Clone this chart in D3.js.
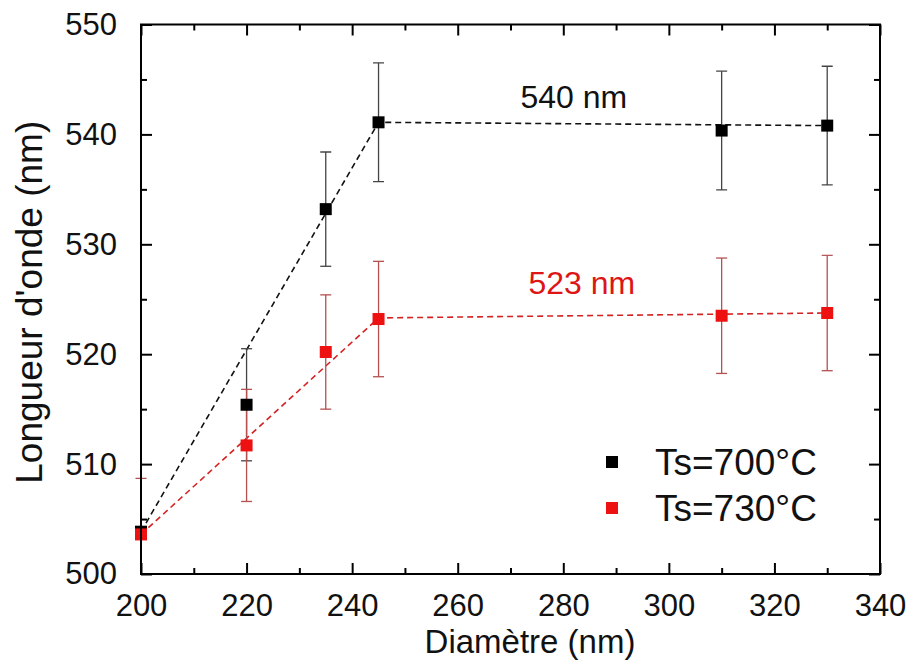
<!DOCTYPE html>
<html><head><meta charset="utf-8">
<script src="https://cdn.jsdelivr.net/npm/d3@7"></script>
<style>body{margin:0;background:#fff}svg{display:block}text{font-family:Arial,"Liberation Sans",sans-serif}</style>
</head><body>
<svg id="c" width="908" height="671"></svg>
<script>
const diam = [200, 220, 235, 245, 310, 330];
const ts700 = [503.85, 515.4, 533.2, 541.1, 540.35, 540.8];
const err700 = [null, 5.1, 5.2, 5.4, 5.4, 5.4];
const ts730 = [503.6, 511.7, 520.2, 523.2, 523.5, 523.75];
const err730 = [5.1, 5.1, 5.2, 5.25, 5.25, 5.25];
const guideX700 = [200, 245, 330];
const guide700 = [503.85, 541.1, 540.8];
const guideX730 = [200, 245, 330];
const guide730 = [503.6, 523.3, 523.75];
const xTicks = [200, 220, 240, 260, 280, 300, 320, 340];
const yTicks = [500, 510, 520, 530, 540, 550];
const seriesNames = ["Ts=700°C", "Ts=730°C"];
const annot = [{v: 540.0, x: 282, text: "540 nm"}, {v: 523.0, x: 283.5, text: "523 nm"}];

const L = 141, R = 880, T = 24.5, B = 574;
const x = d3.scaleLinear().domain([200, 340]).range([L, R]);
const y = d3.scaleLinear().domain([500, 550]).range([B, T]);
const svg = d3.select("#c");

svg.append("defs").append("clipPath").attr("id", "clipV")
  .append("rect").attr("x", 0).attr("y", T).attr("width", R).attr("height", B - T);

const cols = {k: {pt: "#000", line: "#111", err: "#444"}, r: {pt: "#ee1111", line: "#d42222", err: "#b55050"}};

// guide lines
function guide(xs, ys, c) {
  svg.append("path").datum(xs.map((d, i) => [d, ys[i]]))
    .attr("d", d3.line().x(d => x(d[0])).y(d => y(d[1])))
    .attr("fill", "none").attr("stroke", c).attr("stroke-width", 1.6).attr("stroke-dasharray", "6,4");
}
guide(guideX700, guide700, cols.k.line);
guide(guideX730, guide730, cols.r.line);

// error bars
function errs(vals, es, c) {
  const g = svg.append("g").attr("stroke", c).attr("stroke-width", 1.3).attr("clip-path", "url(#clipV)");
  diam.forEach((d, i) => {
    if (es[i] == null) return;
    const cx = x(d), y1 = y(vals[i] - es[i]), y2 = y(vals[i] + es[i]);
    g.append("line").attr("x1", cx).attr("x2", cx).attr("y1", y1).attr("y2", y2);
    g.append("line").attr("x1", cx - 5.5).attr("x2", cx + 5.5).attr("y1", y1).attr("y2", y1);
    g.append("line").attr("x1", cx - 5.5).attr("x2", cx + 5.5).attr("y1", y2).attr("y2", y2);
  });
}
errs(ts700, err700, cols.k.err);
errs(ts730, err730, cols.r.err);

// markers
function marks(vals, c) {
  svg.append("g").selectAll("rect").data(diam).join("rect")
    .attr("x", d => x(d) - 6).attr("y", (d, i) => y(vals[i]) - 6)
    .attr("width", 12).attr("height", 12).attr("fill", c);
}
marks(ts700, cols.k.pt);
marks(ts730, cols.r.pt);

// frame
svg.append("rect").attr("x", L).attr("y", T).attr("width", R - L).attr("height", B - T)
  .attr("fill", "none").attr("stroke", "#000").attr("stroke-width", 2);

// axes (ticks inward)
const xMinor = d3.range(210, 340, 20);
const yMinor = d3.range(505, 550, 10);
function styleAxis(g) {
  g.select(".domain").remove();
  g.selectAll(".tick line").attr("stroke", "#000").attr("stroke-width", 2);
}
const fontTick = "31px";
svg.append("g").attr("transform", `translate(0,${B})`)
  .call(d3.axisBottom(x).tickValues(xTicks).tickSize(-11).tickPadding(20).tickFormat(d3.format("d")))
  .call(styleAxis)
  .call(g => g.selectAll("text").attr("font-size", fontTick).attr("fill", "#111").attr("font-family", "Arial, Liberation Sans, sans-serif"));
svg.append("g").attr("transform", `translate(0,${B})`)
  .call(d3.axisBottom(x).tickValues(xMinor).tickSize(-6).tickFormat(""))
  .call(styleAxis);
svg.append("g").attr("transform", `translate(0,${T})`)
  .call(d3.axisTop(x).tickValues(xTicks).tickSize(-11).tickFormat("")).call(styleAxis);
svg.append("g").attr("transform", `translate(0,${T})`)
  .call(d3.axisTop(x).tickValues(xMinor).tickSize(-6).tickFormat("")).call(styleAxis);

svg.append("g").attr("transform", `translate(${L},0)`)
  .call(d3.axisLeft(y).tickValues(yTicks).tickSize(-11).tickPadding(24).tickFormat(d3.format("d")))
  .call(styleAxis)
  .call(g => g.selectAll("text").attr("font-size", fontTick).attr("fill", "#111").attr("font-family", "Arial, Liberation Sans, sans-serif"));
svg.append("g").attr("transform", `translate(${L},0)`)
  .call(d3.axisLeft(y).tickValues(yMinor).tickSize(-6).tickFormat("")).call(styleAxis);
svg.append("g").attr("transform", `translate(${R},0)`)
  .call(d3.axisRight(y).tickValues(yTicks).tickSize(-11).tickFormat("")).call(styleAxis);
svg.append("g").attr("transform", `translate(${R},0)`)
  .call(d3.axisRight(y).tickValues(yMinor).tickSize(-6).tickFormat("")).call(styleAxis);

// axis titles
svg.append("text").attr("x", 530).attr("y", 653).attr("text-anchor", "middle")
  .attr("font-size", "33px").attr("fill", "#111").text("Diamètre (nm)");
svg.append("text").attr("transform", `translate(42,${(T + B) / 2 + 3}) rotate(-90)`).attr("text-anchor", "middle")
  .attr("font-size", "37px").attr("fill", "#111").text("Longueur d'onde (nm)");

// annotations
svg.append("text").attr("x", x(annot[0].x)).attr("y", y(annot[0].v) - 26).attr("text-anchor", "middle")
  .attr("font-size", "32px").attr("fill", "#111").text(annot[0].text);
svg.append("text").attr("x", x(annot[1].x)).attr("y", y(annot[1].v) - 27).attr("text-anchor", "middle")
  .attr("font-size", "32px").attr("fill", "#dd1515").text(annot[1].text);

// legend
const leg = svg.append("g");
[cols.k.pt, cols.r.pt].forEach((c, i) => {
  const cy = 462 + i * 46;
  leg.append("rect").attr("x", 606).attr("y", cy - 6).attr("width", 12).attr("height", 12).attr("fill", c);
  leg.append("text").attr("x", 655).attr("y", cy + 12.5).attr("font-size", "37px").attr("fill", "#111").text(seriesNames[i]);
});
</script>
</body></html>
